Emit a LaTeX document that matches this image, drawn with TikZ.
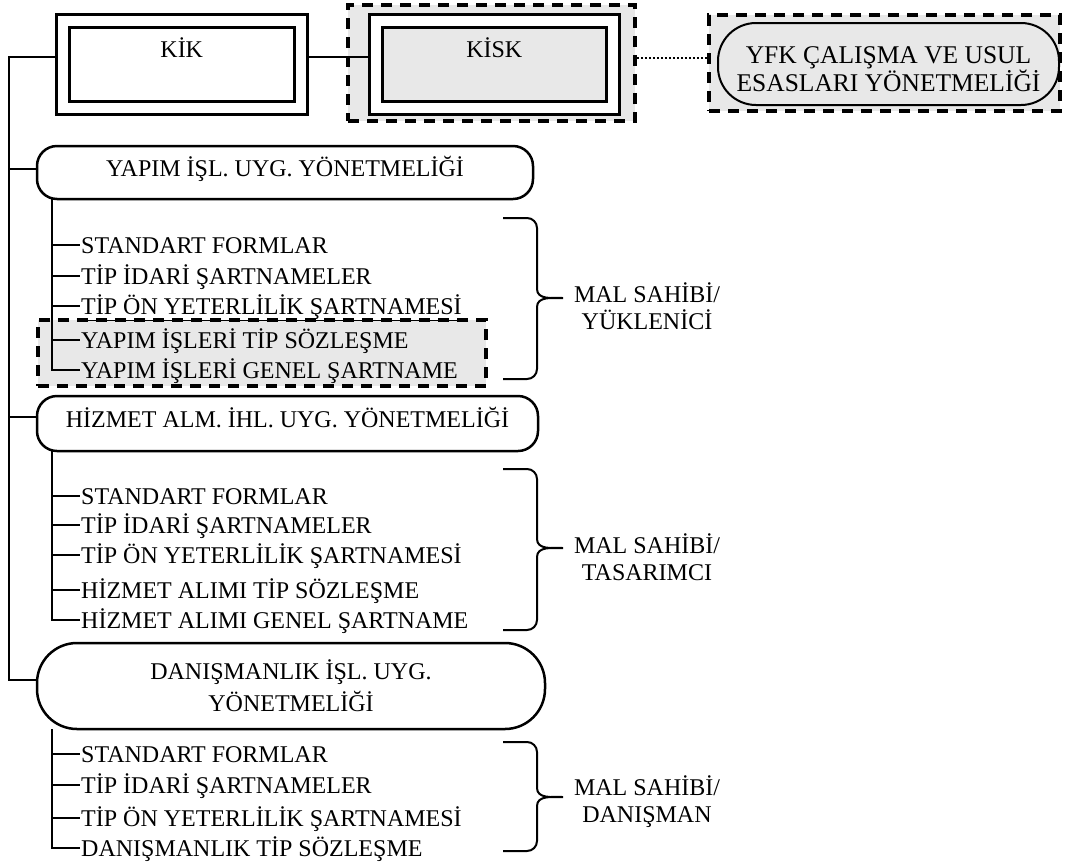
\documentclass[tikz,border=0pt]{standalone}
\usepackage{fontspec}
\setmainfont{Liberation Serif}
\usetikzlibrary{positioning, calc}
\definecolor{zonegray}{RGB}{232,232,232}

\begin{document}
\begin{tikzpicture}[x=1pt, y=-1pt,
    every node/.style={font=\fontsize{24}{27}\selectfont},
    dblbox/.style={draw, line width=3pt, double=white, double distance=10pt, outer sep=6.5pt,
        minimum width=237.5pt, minimum height=87pt, text height=16pt, text depth=28.4pt},
    zone/.style={draw, fill=zonegray, line width=3.5pt, dash pattern=on 11pt off 8pt},
    regbox/.style={draw, line width=2.5pt, rounded corners=20pt},
    oneline/.style={text height=16pt, text depth=8pt},
    item/.style={anchor=west, inner sep=1pt, text height=16pt, text depth=0pt},
    link/.style={line width=2.5pt},
    twig/.style={line width=2pt},
    brc/.style={line width=2pt},
    party/.style={align=center}]
    \useasboundingbox (0,0) rectangle (1066,863);

    % grey dashed zones
    \node[zone, minimum width=287pt, minimum height=116pt] (kiskzone) at (491.5,63) {};
    \node[zone, minimum width=351pt, minimum height=96pt] (yfkzone) at (884.5,63) {};
    \node[zone, minimum width=448pt, minimum height=66pt] (yzone) at (262,353) {};

    % top row
    \node[dblbox] (kik) at (181.75,64) {KİK};
    \node[dblbox, fill=zonegray] (kisk) at (494.25,64) {KİSK};
    \node[draw, fill=zonegray, line width=2pt, rounded corners=38pt, minimum width=341pt, minimum height=82pt,
        align=center, font=\fontsize{25.5}{28}\selectfont] (yfk) at (888.5,64)
        {\rule{0pt}{27pt}YFK ÇALIŞMA VE USUL\\ESASLARI YÖNETMELİĞİ};

    % regulations
    \node[regbox, oneline, minimum width=496pt, minimum height=53pt] (yapim) at (285,172.5) {YAPIM İŞL. UYG. YÖNETMELİĞİ};
    \node[regbox, oneline, minimum width=501pt, minimum height=55pt] (hizmet) at (287.5,423.5) {HİZMET ALM. İHL. UYG. YÖNETMELİĞİ};
    \node[regbox, rounded corners=40pt, minimum width=508pt, minimum height=86pt, align=center,
        font=\fontsize{24}{32}\selectfont] (dan) at (291,686) {DANIŞMANLIK İŞL. UYG.\\YÖNETMELİĞİ};

    % documents
    \node[item] (y1) at (80,245) {STANDART FORMLAR};
    \node[item] (y2) at (80,276) {TİP İDARİ ŞARTNAMELER};
    \node[item] (y3) at (80,306) {\underline{TİP ÖN YETERLİLİK ŞARTNAMESİ}};
    \node[item] (y4) at (80,340) {YAPIM İŞLERİ TİP SÖZLEŞME};
    \node[item] (y5) at (80,370) {YAPIM İŞLERİ GENEL ŞARTNAME};

    \node[item] (h1) at (80,496) {STANDART FORMLAR};
    \node[item] (h2) at (80,525) {TİP İDARİ ŞARTNAMELER};
    \node[item] (h3) at (80,555) {TİP ÖN YETERLİLİK ŞARTNAMESİ};
    \node[item] (h4) at (80,590) {HİZMET ALIMI TİP SÖZLEŞME};
    \node[item] (h5) at (80,620) {HİZMET ALIMI GENEL ŞARTNAME};

    \node[item] (d1) at (80,754) {STANDART FORMLAR};
    \node[item] (d2) at (80,785) {TİP İDARİ ŞARTNAMELER};
    \node[item] (d3) at (80,818) {TİP ÖN YETERLİLİK ŞARTNAMESİ};
    \node[item] (d4) at (80,848) {DANIŞMANLIK TİP SÖZLEŞME};

    % parties
    \node[party] (p1) at (647,306.5) {MAL SAHİBİ/\\YÜKLENİCİ};
    \node[party] (p2) at (647,557.5) {MAL SAHİBİ/\\TASARIMCI};
    \node[party] (p3) at (647,801.5) {MAL SAHİBİ/\\DANIŞMAN};

    % trunk and branches
    \coordinate (trunk) at (9,57);
    \draw[link] ([yshift=7pt]kik.west) -- (trunk) |- ([yshift=6pt]dan.west);
    \draw[link] (trunk) |- ([yshift=3.5pt]yapim.west);
    \draw[link] (trunk) |- ([yshift=6.5pt]hizmet.west);
    \draw[link] ([yshift=7pt]kik.east) -- ([yshift=7pt]kisk.west);
    \draw[line width=2pt, dash pattern=on 2pt off 2pt] ([yshift=5pt]kiskzone.east) -- ([yshift=5pt]yfkzone.west);

    \coordinate (ytop) at (52,199);
    \coordinate (htop) at (52,451);
    \coordinate (dtop) at (52,729);
    \foreach \i in {1,...,5} \draw[twig] (ytop) |- (y\i.west);
    \foreach \i in {1,...,5} \draw[twig] (htop) |- (h\i.west);
    \foreach \i in {1,...,4} \draw[twig] (dtop) |- (d\i.west);

    % braces
    \foreach \t/\m/\b in {218/298/379, 469/548/630, 742/797/851}
        \draw[brc] (503,\t) -- (527,\t) to[out=0,in=90] (537,{\t+10}) -- (537,{\m-9})
            to[out=-90,in=180] (563,\m) to[out=180,in=90] (537,{\m+9}) -- (537,{\b-10})
            to[out=-90,in=0] (527,\b) -- (503,\b);
\end{tikzpicture}
\end{document}
